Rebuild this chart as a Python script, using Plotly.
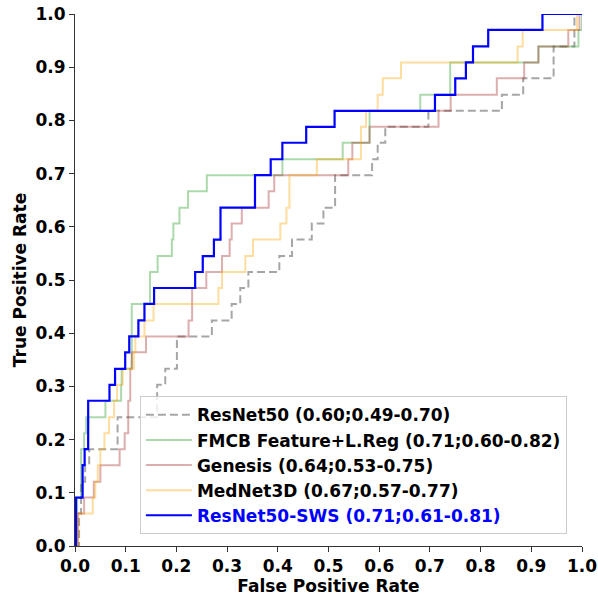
import plotly.graph_objects as go

# ROC curve corners: each point is (FPR where the curve rises, TPR reached)
resnet50_fpr = [0, 0.008, 0.012, 0.020, 0.028, 0.084, 0.162, 0.178, 0.201, 0.270, 0.309, 0.326,
                0.342, 0.403, 0.428, 0.467, 0.490, 0.513, 0.586, 0.597, 0.612, 0.697, 0.842, 0.884,
                0.944, 0.985, 1.0]
resnet50_tpr = [0, 0.061, 0.121, 0.152, 0.182, 0.242, 0.303, 0.333, 0.394, 0.424, 0.455, 0.485,
                0.515, 0.545, 0.576, 0.606, 0.636, 0.697, 0.727, 0.758, 0.788, 0.818, 0.848, 0.879,
                0.939, 1.0, 1.0]

fmcb_fpr = [0, 0.004, 0.012, 0.018, 0.022, 0.060, 0.091, 0.092, 0.112, 0.148, 0.163, 0.191, 0.194,
            0.206, 0.223, 0.260, 0.409, 0.528, 0.581, 0.681, 0.740, 0.914, 0.993, 1.0]
fmcb_tpr = [0, 0.091, 0.182, 0.212, 0.242, 0.273, 0.303, 0.333, 0.455, 0.515, 0.545, 0.576, 0.606,
            0.636, 0.667, 0.697, 0.727, 0.758, 0.818, 0.848, 0.909, 0.939, 0.970, 1.0]

genesis_fpr = [0, 0.006, 0.018, 0.037, 0.050, 0.088, 0.098, 0.105, 0.109, 0.112, 0.140, 0.224, 0.231,
               0.259, 0.290, 0.305, 0.309, 0.329, 0.382, 0.393, 0.539, 0.547, 0.581, 0.717, 0.741,
               0.832, 0.886, 0.914, 0.973, 0.995, 1.0]
genesis_tpr = [0, 0.061, 0.091, 0.121, 0.152, 0.182, 0.212, 0.273, 0.333, 0.364, 0.394, 0.424, 0.485,
               0.515, 0.545, 0.576, 0.606, 0.636, 0.667, 0.697, 0.727, 0.758, 0.788, 0.818, 0.848,
               0.879, 0.909, 0.939, 0.970, 1.0, 1.0]

mednet_fpr = [0, 0.006, 0.035, 0.040, 0.045, 0.050, 0.058, 0.067, 0.077, 0.083, 0.094, 0.116, 0.119,
              0.137, 0.155, 0.283, 0.290, 0.336, 0.351, 0.405, 0.417, 0.423, 0.477, 0.564, 0.574,
              0.597, 0.607, 0.643, 0.873, 0.883, 0.990, 1.0]
mednet_tpr = [0, 0.061, 0.091, 0.121, 0.152, 0.182, 0.212, 0.242, 0.273, 0.303, 0.333, 0.364, 0.394,
              0.424, 0.455, 0.485, 0.515, 0.545, 0.576, 0.606, 0.636, 0.697, 0.727, 0.788, 0.818,
              0.848, 0.879, 0.909, 0.939, 0.970, 1.0, 1.0]

sws_fpr = [0, 0.002, 0.015, 0.019, 0.026, 0.068, 0.079, 0.099, 0.107, 0.125, 0.137, 0.156, 0.237,
           0.252, 0.274, 0.287, 0.355, 0.386, 0.409, 0.456, 0.512, 0.710, 0.750, 0.771, 0.785,
           0.815, 0.922, 1.0]
sws_tpr = [0, 0.091, 0.152, 0.182, 0.273, 0.303, 0.333, 0.364, 0.394, 0.424, 0.455, 0.485, 0.515,
           0.545, 0.576, 0.636, 0.697, 0.727, 0.758, 0.788, 0.818, 0.848, 0.879, 0.909, 0.939,
           0.970, 1.0, 1.0]

labels = [
    "ResNet50 (0.60;0.49-0.70)",
    "FMCB Feature+L.Reg (0.71;0.60-0.82)",
    "Genesis (0.64;0.53-0.75)",
    "MedNet3D (0.67;0.57-0.77)",
    "ResNet50-SWS (0.71;0.61-0.81)",
]

FONT = "DejaVu Sans"

fig = go.Figure()

curves = [
    (resnet50_fpr, resnet50_tpr, labels[0], dict(color="rgba(128,128,128,0.7)", width=2, dash="8px,4px")),
    (fmcb_fpr, fmcb_tpr, labels[1], dict(color="rgba(44,160,44,0.4)", width=2)),
    (genesis_fpr, genesis_tpr, labels[2], dict(color="rgba(165,42,42,0.38)", width=2)),
    (mednet_fpr, mednet_tpr, labels[3], dict(color="rgba(255,165,0,0.38)", width=2)),
    (sws_fpr, sws_tpr, "<span style='color:#0000ff'>" + labels[4] + "</span>",
     dict(color="#0000ff", width=2.2)),
]

for fpr, tpr, name, line in curves:
    fig.add_trace(go.Scatter(
        x=fpr, y=tpr, mode="lines", name=name,
        line=dict(shape="hv", **line),
    ))

axis_common = dict(
    range=[0, 1.0],
    automargin=False,
    tickmode="array",
    tickvals=[i / 10 for i in range(11)],
    ticktext=[f"{i / 10:.1f}" for i in range(11)],
    ticks="outside",
    ticklen=5,
    tickwidth=1,
    tickcolor="#333333",
    showline=True,
    linecolor="#333333",
    linewidth=1,
    showgrid=False,
    zeroline=False,
    tickfont=dict(family=FONT, size=17, color="black", weight="bold"),
)

fig.update_layout(
    width=598,
    height=598,
    margin=dict(l=75, r=16, t=14, b=52),
    paper_bgcolor="white",
    plot_bgcolor="white",
    font=dict(family=FONT, color="black"),
    xaxis=dict(
        title=dict(text="False Positive Rate", font=dict(family=FONT, size=17, weight="bold"), standoff=4),
        **axis_common,
    ),
    yaxis=dict(
        title=dict(text="True Positive Rate", font=dict(family=FONT, size=17, weight="bold"), standoff=4),
        **axis_common,
    ),
    legend=dict(
        x=0.128, y=0.022, xanchor="left", yanchor="bottom",
        bgcolor="rgba(255,255,255,0.8)",
        bordercolor="#cccccc",
        borderwidth=1,
        itemwidth=46,
        font=dict(family=FONT, size=17, color="black", weight="bold"),
    ),
)

fig.write_html("out.html")
